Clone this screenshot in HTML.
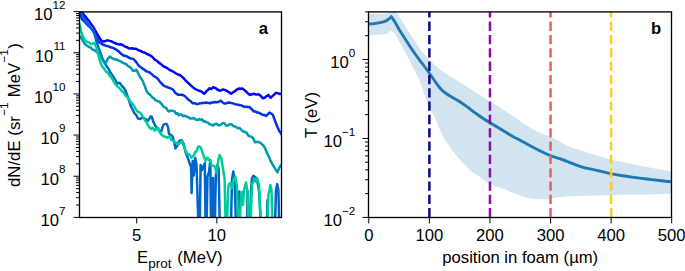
<!DOCTYPE html><html><head><meta charset="utf-8"><style>
html,body{margin:0;padding:0;background:#fff;width:685px;height:271px;overflow:hidden}
svg{display:block;font-family:"Liberation Sans", sans-serif;font-size:16.67px}
</style></head><body>
<svg width="685" height="271" viewBox="0 0 685 271">
<rect width="685" height="271" fill="#fff"/>
<clipPath id="cb"><rect x="368.8" y="11.6" width="302.90000000000003" height="205.8"/></clipPath>
<clipPath id="ca"><rect x="79.0" y="11.6" width="202.0" height="205.8"/></clipPath>
<g clip-path="url(#cb)">
<path d="M368.8 13.8 L378.0 13.8 L386.0 13.5 L389.0 12.8 L391.2 8.0 L393.0 8.0 L395.7 11.5 L400.0 17.8 L406.8 28.5 L411.8 36.5 L415.6 42.3 L419.2 47.8 L424.5 54.5 L428.9 59.2 L433.0 63.3 L437.4 67.3 L444.8 73.2 L452.1 77.6 L456.6 80.3 L463.0 84.3 L470.0 88.5 L478.9 94.4 L489.2 101.0 L499.5 107.0 L505.0 111.0 L512.4 115.6 L519.8 120.7 L527.1 125.8 L534.5 130.2 L541.9 133.6 L545.0 134.8 L552.4 137.8 L559.8 141.8 L567.1 145.5 L574.5 148.5 L581.9 150.8 L585.0 151.7 L592.4 154.0 L599.8 156.2 L607.1 158.5 L614.5 160.6 L621.9 162.1 L632.0 164.0 L646.8 167.0 L661.5 169.8 L672.0 171.4 L672.0 193.7 L661.5 194.0 L646.8 194.4 L630.0 194.6 L600.0 195.6 L578.4 196.0 L566.0 196.5 L555.4 197.4 L550.0 199.0 L545.0 199.4 L534.5 199.1 L527.1 197.8 L519.8 195.5 L512.4 192.5 L505.0 189.5 L501.9 188.2 L494.5 186.0 L487.1 182.3 L479.8 177.1 L472.4 172.0 L465.0 165.3 L458.0 157.5 L453.6 151.9 L449.2 146.0 L444.8 139.4 L441.1 132.7 L437.4 124.0 L434.4 116.5 L431.0 111.0 L428.0 105.5 L426.2 100.0 L423.5 91.5 L420.5 83.5 L417.4 76.0 L414.2 69.5 L410.0 61.0 L406.8 55.5 L402.0 46.5 L399.2 41.5 L395.7 34.8 L393.5 32.6 L391.2 30.9 L389.1 32.1 L386.9 33.2 L383.5 34.3 L378.0 34.8 L368.8 35.2Z" fill="#d2e4f0"/>
<path d="M368.80 24.00 C369.67 23.93 372.47 23.77 374.00 23.60 C375.53 23.43 376.60 23.23 378.00 23.00 C379.40 22.77 381.10 22.53 382.40 22.20 C383.70 21.87 384.78 21.50 385.80 21.00 C386.82 20.50 387.75 19.75 388.50 19.20 C389.25 18.65 389.85 18.13 390.30 17.70 C390.75 17.27 391.05 16.78 391.20 16.60 L391.20 16.60 C391.77 17.43 393.37 19.60 394.60 21.60 C395.83 23.60 397.70 27.05 398.60 28.60 C399.50 30.15 398.63 28.75 400.00 30.90 C401.37 33.05 404.45 37.90 406.80 41.50 C409.15 45.10 411.65 49.00 414.10 52.50 C416.55 56.00 419.40 59.67 421.50 62.50 C423.60 65.33 425.30 67.58 426.70 69.50 C428.10 71.42 428.50 72.00 429.90 74.00 C431.30 76.00 433.25 78.95 435.10 81.50 C436.95 84.05 439.03 87.22 441.00 89.30 C442.97 91.38 445.23 92.78 446.90 94.00 C448.57 95.22 448.85 95.30 451.00 96.60 C453.15 97.90 456.85 99.90 459.80 101.80 C462.75 103.70 466.00 106.05 468.70 108.00 C471.40 109.95 473.45 111.67 476.00 113.50 C478.55 115.33 481.67 117.47 484.00 119.00 C486.33 120.53 486.50 120.58 490.00 122.70 C493.50 124.82 501.27 129.45 505.00 131.70 C508.73 133.95 509.90 134.78 512.40 136.20 C514.90 137.62 516.73 138.43 520.00 140.20 C523.27 141.97 527.83 144.62 532.00 146.80 C536.17 148.98 541.60 151.72 545.00 153.30 C548.40 154.88 549.93 155.40 552.40 156.30 C554.87 157.20 557.35 157.83 559.80 158.70 C562.25 159.57 564.65 160.57 567.10 161.50 C569.55 162.43 571.52 163.25 574.50 164.30 C577.48 165.35 582.02 166.95 585.00 167.80 C587.98 168.65 589.93 168.87 592.40 169.40 C594.87 169.93 597.35 170.42 599.80 171.00 C602.25 171.58 604.65 172.33 607.10 172.90 C609.55 173.47 612.03 173.95 614.50 174.40 C616.97 174.85 618.98 175.15 621.90 175.60 C624.82 176.05 627.85 176.53 632.00 177.10 C636.15 177.67 641.88 178.38 646.80 179.00 C651.72 179.62 657.30 180.32 661.50 180.80 C665.70 181.28 670.25 181.72 672.00 181.90" fill="none" stroke="#1f77b4" stroke-width="2.9" stroke-linejoin="round"/>
<path d="M429.38 217.40V11.60" stroke="#0d0887" stroke-width="2.5" stroke-dasharray="9.3 4.02" fill="none"/>
<path d="M489.96 217.40V11.60" stroke="#8f0da4" stroke-width="2.5" stroke-dasharray="9.3 4.02" fill="none"/>
<path d="M550.54 217.40V11.60" stroke="#e16462" stroke-width="2.5" stroke-dasharray="9.3 4.02" fill="none"/>
<path d="M611.12 217.40V11.60" stroke="#fcce25" stroke-width="2.5" stroke-dasharray="9.3 4.02" fill="none"/>
</g>
<g clip-path="url(#ca)" fill="none" stroke-width="2.5" stroke-linejoin="round">
<path stroke="#0000ff" d="M80.5 9.0 L82.0 12.5 L83.8 14.7 L85.6 16.9 L87.4 19.2 L89.3 21.3 L91.2 24.3 L93.0 26.5 L94.8 29.8 L96.7 33.1 L98.2 35.7 L99.7 38.3 L101.9 41.3 L103.3 41.4 L104.8 41.3 L106.3 40.6 L107.8 40.5 L109.7 40.9 L111.5 41.3 L113.2 42.3 L115.0 43.0 L117.0 43.9 L118.8 44.4 L120.7 44.3 L122.2 44.7 L123.8 45.7 L125.3 46.7 L127.2 47.2 L129.0 48.5 L130.4 48.6 L131.8 48.2 L133.6 48.8 L135.5 48.7 L137.3 49.5 L139.2 50.6 L141.0 50.9 L142.5 52.1 L144.1 52.5 L145.6 53.1 L147.4 54.2 L149.3 55.0 L150.8 55.9 L152.4 57.0 L153.9 58.7 L155.4 60.0 L157.0 60.8 L158.5 62.4 L160.0 63.4 L161.6 64.6 L163.1 66.1 L165.0 67.0 L166.8 67.8 L168.7 69.4 L170.6 70.3 L172.4 71.2 L174.2 72.3 L176.1 73.5 L177.9 74.5 L179.8 74.9 L181.7 76.5 L183.5 78.1 L185.3 80.1 L187.1 81.8 L188.9 83.6 L190.8 85.4 L192.7 87.1 L194.5 88.6 L196.3 89.5 L198.2 90.4 L200.1 91.0 L201.9 91.9 L204.1 93.7 L205.3 92.8 L206.5 91.0 L207.9 90.0 L209.3 88.2 L211.1 89.1 L213.3 87.3 L215.6 88.1 L217.6 89.7 L219.5 90.7 L221.4 90.2 L223.3 89.4 L225.2 90.1 L227.2 91.2 L229.1 92.3 L231.1 93.8 L233.1 92.3 L235.0 91.2 L236.9 89.5 L238.8 88.6 L240.8 88.8 L242.7 88.6 L244.6 90.2 L246.6 92.0 L248.3 93.8 L250.0 94.9 L252.0 94.2 L254.0 93.8 L255.5 94.4 L257.0 94.4 L258.5 94.3 L260.0 95.2 L261.4 96.7 L262.9 98.3 L264.5 97.8 L266.2 96.5 L268.4 94.9 L270.6 97.8 L272.2 96.3 L273.9 94.9 L276.1 92.7 L278.4 93.4 L279.9 94.0 L281.5 93.6 L283.0 93.8"/>
<path stroke="#0033e6" d="M79.5 11.0 L80.5 15.4 L82.0 19.1 L83.8 20.9 L85.6 22.8 L87.1 24.4 L88.5 25.9 L90.0 27.2 L91.9 29.5 L93.8 32.4 L95.2 34.9 L96.7 38.3 L98.2 40.4 L99.7 42.7 L101.2 43.3 L102.6 44.5 L104.1 45.0 L105.6 45.6 L107.0 46.0 L108.5 46.4 L110.0 47.0 L111.5 47.6 L112.9 47.7 L114.4 48.6 L115.7 49.3 L117.0 50.2 L118.8 51.5 L120.7 53.4 L122.6 55.0 L124.4 55.8 L126.2 56.1 L128.1 57.2 L129.9 58.2 L131.8 58.6 L133.2 58.9 L134.5 60.0 L136.4 62.4 L137.8 64.4 L139.1 66.1 L140.9 67.3 L142.8 68.8 L144.3 69.6 L145.9 71.0 L147.4 71.6 L149.0 72.1 L150.5 73.1 L152.1 74.4 L153.6 76.0 L155.2 76.8 L156.7 78.0 L158.1 79.1 L159.4 81.0 L161.3 83.2 L163.1 85.0 L165.0 86.4 L166.8 86.8 L168.7 87.8 L170.6 88.4 L172.4 89.1 L173.8 90.6 L175.1 92.8 L176.5 93.6 L177.9 94.7 L179.8 94.8 L181.6 94.7 L183.4 95.3 L185.3 96.5 L187.2 98.5 L189.0 100.2 L190.8 101.3 L192.7 103.3 L194.6 103.3 L196.4 103.9 L197.9 104.0 L199.5 103.4 L201.0 103.3 L202.5 103.0 L204.1 102.9 L205.6 102.6 L207.1 102.8 L208.7 103.0 L210.2 103.3 L211.8 102.4 L213.4 102.6 L215.0 102.0 L216.9 102.3 L218.9 101.8 L220.8 100.5 L222.7 102.5 L224.6 103.6 L226.6 103.2 L228.5 102.5 L230.2 102.7 L232.0 103.1 L233.7 103.6 L235.4 104.2 L237.1 104.6 L238.8 104.9 L240.5 105.2 L242.3 105.9 L244.0 106.7 L245.9 106.7 L247.7 107.0 L249.6 107.1 L251.1 108.8 L252.5 110.0 L254.0 111.5 L255.5 111.4 L257.0 112.5 L258.5 112.6 L260.0 113.3 L261.4 114.1 L262.9 114.8 L264.5 115.1 L266.2 115.9 L267.9 114.2 L269.5 112.6 L271.1 113.6 L272.8 114.8 L276.1 123.7 L277.8 127.8 L279.5 131.4 L281.2 133.8 L283.0 137.0"/>
<path stroke="#0066cc" d="M80.0 9.0 L80.5 11.0 L83.4 18.4 L84.9 19.8 L86.4 22.0 L87.9 23.5 L89.4 25.5 L90.8 27.4 L92.3 28.7 L93.8 31.5 L95.0 35.5 L96.0 40.0 L98.2 46.9 L100.4 52.8 L102.6 58.7 L104.8 63.1 L107.0 66.8 L108.8 69.4 L110.5 72.8 L112.3 75.2 L114.2 78.3 L115.6 80.6 L117.0 83.8 L118.4 83.0 L119.8 82.9 L121.2 85.0 L122.5 86.6 L123.9 88.0 L125.3 90.3 L127.1 94.9 L129.0 100.4 L130.8 106.0 L132.7 109.7 L134.5 113.4 L136.4 115.2 L138.0 118.5 L140.2 119.1 L142.4 117.4 L144.1 118.3 L145.8 119.1 L148.0 120.7 L149.1 119.1 L150.7 116.3 L151.8 116.9 L153.0 120.7 L154.1 123.5 L155.7 126.3 L157.4 128.5 L159.0 130.1 L160.1 131.8 L161.3 131.3 L162.4 127.4 L163.5 124.6 L165.1 124.1 L166.8 124.1 L168.1 127.4 L169.0 133.8 L170.8 134.8 L172.7 136.6 L174.5 143.1 L175.4 148.6 L177.3 145.8 L179.1 141.2 L180.5 140.4 L181.9 140.3 L183.7 144.0 L185.6 152.3 L187.4 156.9 L189.3 162.4 L191.1 167.0 L191.6 193.0 L192.7 161.0 L193.8 175.5 L195.2 158.0 L196.5 164.0 L198.4 225.0 L199.8 225.0 L200.6 165.0 L202.0 170.0 L203.4 166.4 L204.8 163.2 L205.6 225.0 L206.6 225.0 L207.5 176.6 L209.1 171.6 L210.3 160.0 L211.0 225.0 L212.2 225.0 L213.0 178.0 L213.8 225.0 L214.8 225.0 L215.9 174.3 L217.4 165.0 L218.6 168.0 L219.8 225.0 L231.0 225.0 L232.0 180.0 L233.2 171.6 L234.5 178.0 L236.0 225.0 L238.6 225.0 L239.3 191.6 L240.0 225.0 L246.9 225.0 L247.6 191.6 L248.3 225.0 L250.1 225.0 L251.0 190.0 L252.0 178.0 L253.4 175.8 L255.0 177.0 L257.0 180.0 L259.0 190.0 L260.9 225.0 L266.8 225.0 L267.5 199.9 L268.2 225.0 L275.0 225.0 L276.0 190.0 L277.2 184.1 L278.4 190.0 L279.2 225.0 L283.0 225.0"/>
<path stroke="#0099b2" d="M78.0 34.0 L79.7 36.1 L81.2 37.8 L82.7 40.5 L84.9 44.0 L86.4 45.3 L87.9 46.2 L89.3 47.1 L90.8 47.6 L92.3 49.3 L93.8 49.9 L95.2 50.7 L96.7 52.1 L98.2 53.3 L99.7 55.0 L101.9 58.7 L104.1 62.4 L105.6 63.1 L107.8 58.7 L110.0 56.5 L111.5 57.9 L113.0 58.7 L114.5 59.3 L115.9 59.5 L117.5 60.0 L119.0 60.9 L120.7 61.4 L122.6 62.6 L124.4 63.3 L125.8 64.1 L127.1 65.1 L128.5 66.4 L129.9 67.0 L131.3 68.4 L132.7 70.7 L134.5 70.7 L136.4 69.7 L138.2 73.4 L140.1 77.1 L141.4 78.8 L142.8 81.1 L145.5 88.0 L146.9 91.6 L148.3 93.5 L149.7 94.3 L151.1 95.8 L152.5 97.7 L153.9 98.1 L155.2 100.2 L156.6 100.4 L158.0 101.6 L159.4 101.5 L160.8 103.2 L162.2 104.7 L163.5 106.4 L164.9 107.4 L166.3 108.0 L167.7 110.5 L169.1 111.5 L170.5 110.5 L171.8 110.8 L173.2 111.0 L174.6 111.4 L176.0 113.7 L177.4 113.2 L178.7 115.2 L180.1 114.3 L181.5 114.6 L182.9 116.3 L184.3 115.7 L185.7 116.0 L187.0 116.9 L188.4 117.1 L189.8 118.4 L191.2 118.4 L192.6 118.4 L194.0 118.0 L195.3 119.5 L196.7 119.8 L198.1 120.1 L199.5 119.1 L200.9 119.8 L202.3 119.4 L203.6 121.6 L205.0 121.2 L206.4 122.2 L207.8 122.4 L209.2 124.0 L211.1 124.6 L213.0 125.5 L214.9 124.0 L216.9 123.7 L218.2 125.3 L219.5 125.5 L221.4 124.3 L223.3 123.0 L224.6 123.4 L225.9 125.5 L227.9 125.5 L229.8 124.2 L231.8 124.3 L233.7 126.3 L235.6 126.7 L237.5 128.1 L239.4 128.0 L241.4 129.9 L243.4 131.5 L245.3 132.0 L246.9 133.1 L248.5 135.8 L250.2 136.4 L251.8 136.9 L253.4 138.7 L255.0 142.2 L256.4 142.0 L257.8 141.8 L259.1 142.5 L260.5 142.8 L261.9 144.2 L263.3 145.5 L265.1 148.3 L267.0 152.9 L268.8 156.6 L270.7 161.2 L272.0 163.4 L273.4 165.8 L274.8 168.1 L276.2 170.4 L277.5 172.3 L279.3 167.7 L281.1 165.3 L283.0 163.0"/>
<path stroke="#00cc99" d="M78.6 22.5 L79.7 24.8 L81.2 31.7 L83.4 37.6 L85.2 40.5 L87.1 42.0 L88.9 42.4 L90.8 44.2 L92.3 43.8 L93.8 42.7 L95.2 44.7 L96.7 48.4 L98.2 54.3 L99.7 60.2 L101.9 66.1 L103.3 67.5 L104.8 69.8 L106.3 71.9 L107.8 72.7 L110.0 76.4 L111.2 77.1 L112.4 79.2 L114.2 82.5 L116.1 84.8 L117.9 86.9 L119.8 88.5 L121.7 91.1 L123.5 92.1 L125.3 95.5 L127.1 96.8 L128.9 99.0 L130.8 102.3 L132.7 104.2 L134.5 106.9 L136.2 109.9 L138.0 111.9 L139.7 112.4 L141.3 114.1 L143.0 116.9 L144.6 119.6 L146.3 122.4 L148.0 125.2 L149.6 127.4 L151.3 129.0 L153.0 127.9 L154.6 130.7 L156.3 129.0 L157.9 127.9 L159.6 131.8 L161.3 134.6 L163.5 136.2 L165.7 136.8 L167.2 137.7 L169.4 136.6 L171.6 140.0 L173.3 140.6 L175.0 142.2 L176.7 142.8 L178.3 144.4 L180.1 143.1 L181.9 141.2 L183.7 145.8 L185.6 150.4 L187.4 154.0 L189.4 154.4 L191.6 157.7 L193.8 155.5 L195.2 152.0 L196.3 151.7 L198.2 146.6 L199.6 146.6 L200.9 147.7 L203.1 154.4 L204.4 158.1 L205.8 160.8 L207.5 157.5 L208.8 159.7 L210.0 160.8 L211.6 165.0 L213.3 165.8 L214.9 166.6 L216.6 173.3 L218.3 160.0 L219.6 155.0 L221.2 158.3 L222.9 168.3 L224.6 178.2 L225.6 225.0 L227.0 225.0 L228.2 188.0 L229.0 184.1 L230.7 183.2 L231.8 188.3 L233.5 180.0 L235.2 176.7 L236.8 185.0 L238.3 225.0 L239.5 225.0 L241.0 200.0 L242.0 192.0 L243.0 205.0 L244.0 190.0 L246.0 182.5 L247.5 192.0 L248.5 225.0 L250.5 225.0 L252.0 185.0 L254.3 179.2 L255.5 181.5 L257.0 178.0 L259.0 185.0 L260.9 225.0 L267.5 225.0 L268.4 195.0 L270.4 185.0 L271.5 190.0 L272.5 225.0 L283.0 225.0"/>
</g>
<rect x="79.5" y="11.9" width="202.0" height="205.6" fill="none" stroke="#000" stroke-width="1.333"/>
<path d="M73.50 217.40H79.50 M76.05 205.01H79.50 M76.05 197.76H79.50 M76.05 192.62H79.50 M76.05 188.63H79.50 M76.05 185.37H79.50 M76.05 182.62H79.50 M76.05 180.23H79.50 M76.05 178.12H79.50 M73.50 176.24H79.50 M76.05 163.85H79.50 M76.05 156.60H79.50 M76.05 151.46H79.50 M76.05 147.47H79.50 M76.05 144.21H79.50 M76.05 141.46H79.50 M76.05 139.07H79.50 M76.05 136.96H79.50 M73.50 135.08H79.50 M76.05 122.69H79.50 M76.05 115.44H79.50 M76.05 110.30H79.50 M76.05 106.31H79.50 M76.05 103.05H79.50 M76.05 100.30H79.50 M76.05 97.91H79.50 M76.05 95.80H79.50 M73.50 93.92H79.50 M76.05 81.53H79.50 M76.05 74.28H79.50 M76.05 69.14H79.50 M76.05 65.15H79.50 M76.05 61.89H79.50 M76.05 59.14H79.50 M76.05 56.75H79.50 M76.05 54.64H79.50 M73.50 52.76H79.50 M76.05 40.37H79.50 M76.05 33.12H79.50 M76.05 27.98H79.50 M76.05 23.99H79.50 M76.05 20.73H79.50 M76.05 17.98H79.50 M76.05 15.59H79.50 M76.05 13.48H79.50 M73.50 11.60H79.50" stroke="#000" stroke-width="1.00" fill="none"/>
<path d="M136.71 217.40V223.40 M216.87 217.40V223.40" stroke="#000" stroke-width="1.00"/>
<text x="65.50" y="226.25" text-anchor="end">10<tspan dy="-11.7" font-size="11.67">7</tspan></text>
<text x="65.50" y="185.09" text-anchor="end">10<tspan dy="-11.7" font-size="11.67">8</tspan></text>
<text x="65.50" y="143.93" text-anchor="end">10<tspan dy="-11.7" font-size="11.67">9</tspan></text>
<text x="65.50" y="102.77" text-anchor="end">10<tspan dy="-11.7" font-size="11.67">10</tspan></text>
<text x="65.50" y="61.61" text-anchor="end">10<tspan dy="-11.7" font-size="11.67">11</tspan></text>
<text x="65.50" y="20.45" text-anchor="end">10<tspan dy="-11.7" font-size="11.67">12</tspan></text>
<text x="136.71" y="240.8" text-anchor="middle">5</text>
<text x="216.87" y="240.8" text-anchor="middle">10</text>
<text x="137.00" y="262.8">E</text>
<text x="148.27" y="268.2" font-size="12.3" textLength="23.2" lengthAdjust="spacingAndGlyphs">prot</text>
<text x="172.67" y="262.8" xml:space="preserve"> (MeV)</text>
<g transform="translate(19.6 187.1) rotate(-90)"><text><tspan x="0.00" y="0">d</tspan><tspan x="9.36" y="0">N</tspan><tspan x="21.52" y="0">/</tspan><tspan x="26.20" y="0">d</tspan><tspan x="35.56" y="0">E</tspan><tspan x="51.46" y="0">(</tspan><tspan x="57.07" y="0">s</tspan><tspan x="65.48" y="0">r</tspan><tspan x="89.80" y="0">M</tspan><tspan x="103.82" y="0">e</tspan><tspan x="113.19" y="0">V</tspan><tspan x="138.45" y="0">)</tspan><tspan x="71.25" y="-11.7" font-size="11.67">−</tspan><tspan x="78.13" y="-11.7" font-size="11.67">1</tspan><tspan x="124.57" y="-11.7" font-size="11.67">−</tspan><tspan x="131.45" y="-11.7" font-size="11.67">1</tspan></text></g>
<text x="263.4" y="34.2" text-anchor="middle" font-weight="bold">a</text>
<rect x="368.5" y="11.9" width="303.0" height="205.6" fill="none" stroke="#000" stroke-width="1.333"/>
<path d="M362.50 217.40H368.50 M365.05 193.63H368.50 M365.05 179.72H368.50 M365.05 169.85H368.50 M365.05 162.20H368.50 M365.05 155.95H368.50 M365.05 150.66H368.50 M365.05 146.08H368.50 M365.05 142.04H368.50 M362.50 138.43H368.50 M365.05 114.65H368.50 M365.05 100.74H368.50 M365.05 90.88H368.50 M365.05 83.22H368.50 M365.05 76.97H368.50 M365.05 71.68H368.50 M365.05 67.10H368.50 M365.05 63.06H368.50 M362.50 59.45H368.50 M365.05 35.68H368.50 M365.05 21.77H368.50 M365.05 11.90H368.50" stroke="#000" stroke-width="1.00" fill="none"/>
<path d="M368.80 217.40V223.40 M429.38 217.40V223.40 M489.96 217.40V223.40 M550.54 217.40V223.40 M611.12 217.40V223.40 M671.70 217.40V223.40" stroke="#000" stroke-width="1.00"/>
<text x="355.30" y="68.30" text-anchor="end">10<tspan dy="-11.7" font-size="11.67">0</tspan></text>
<text x="355.30" y="147.28" text-anchor="end">10<tspan dy="-11.7" font-size="11.67">−1</tspan></text>
<text x="355.30" y="226.25" text-anchor="end">10<tspan dy="-11.7" font-size="11.67">−2</tspan></text>
<text x="368.80" y="240.8" text-anchor="middle">0</text>
<text x="429.38" y="240.8" text-anchor="middle">100</text>
<text x="489.96" y="240.8" text-anchor="middle">200</text>
<text x="550.54" y="240.8" text-anchor="middle">300</text>
<text x="611.12" y="240.8" text-anchor="middle">400</text>
<text x="671.70" y="240.8" text-anchor="middle">500</text>
<text x="520.25" y="262.8" text-anchor="middle">position in foam (µm)</text>
<text transform="translate(316.6 115) rotate(-90)" text-anchor="middle">T (eV)</text>
<text x="656" y="34.2" text-anchor="middle" font-weight="bold">b</text>
</svg></body></html>
